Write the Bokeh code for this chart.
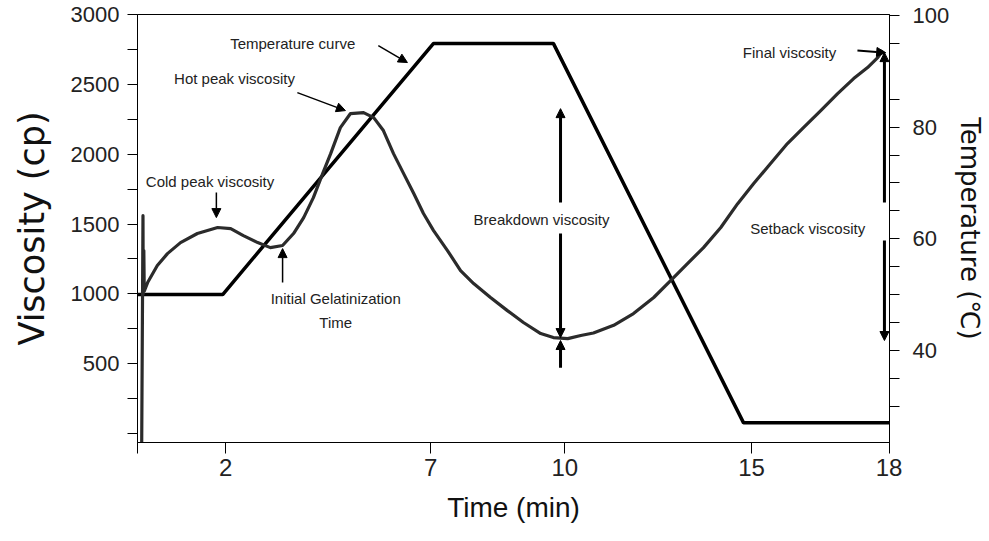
from bokeh.plotting import figure
from bokeh.models import Range1d, LinearAxis, FixedTicker, Label, Arrow, NormalHead
from bokeh.embed import file_html
from bokeh.resources import INLINE

# ---- data (time axis as drawn, minutes) ----
time_visc = [0.10, 0.13, 0.135, 0.15, 0.16, 0.24, 0.47, 0.71, 1.02, 1.42, 1.90, 2.21,
             2.51, 2.85, 3.15, 3.44, 3.70, 3.94, 4.17, 4.39, 4.58, 4.81, 5.05, 5.36,
             5.60, 5.83, 6.07, 6.31, 6.55, 6.78, 7.02, 7.35, 7.66, 7.97, 8.37, 8.77,
             9.15, 9.56, 9.86, 10.20, 10.51, 10.81, 11.29, 11.76, 12.24, 12.64, 13.04,
             13.42, 13.83, 14.23, 14.61, 15.01, 15.41, 15.79, 16.20, 16.60, 16.98,
             17.31, 17.55, 17.67]
viscosity = [-60, 1560, 1000, 1310, 1020, 1081, 1203, 1288, 1367, 1432, 1475, 1467,
             1417, 1367, 1331, 1346, 1432, 1546, 1689, 1861, 2004, 2190, 2291, 2298,
             2262, 2169, 2004, 1861, 1718, 1575, 1453, 1310, 1167, 1074, 974, 880,
             795, 716, 687, 680, 702, 720, 775, 859, 974, 1095, 1217,
             1331, 1475, 1646, 1790, 1933, 2076, 2190, 2312, 2434, 2541,
             2620, 2691, 2742]

time_temp = [0.0, 2.02, 7.02, 9.86, 14.37, 17.83]
temperature = [50, 50, 95, 95, 27, 27]

time_tick_pos = [0, 2.09, 6.95, 10.13, 14.56, 17.82]
time_tick_labels = ["", "2", "7", "10", "15", "18"]
visc_ticks = [0, 500, 1000, 1500, 2000, 2500, 3000]
visc_tick_labels = ["", "500", "1000", "1500", "2000", "2500", "3000"]
visc_minor = [250, 750, 1250, 1750, 2250, 2750]
temp_ticks = [40, 60, 80, 100]
temp_minor = [30, 35, 45, 50, 55, 65, 70, 75, 85, 95]

SANS = "Liberation Sans"
WIDE = "DejaVu Sans"

p = figure(width=989, height=541, output_backend="svg", toolbar_location=None,
           x_range=Range1d(0, 17.83), y_range=Range1d(-64, 3000),
           min_border_left=137, min_border_right=100, min_border_top=14, min_border_bottom=99)
p.extra_y_ranges = {"temp": Range1d(23.48, 100.18)}
p.xgrid.visible = False
p.ygrid.visible = False
p.outline_line_color = "black"
p.outline_line_width = 1

def style_axis(ax, size, tick_out=10):
    ax.axis_line_color = "black"
    ax.axis_line_width = 1
    ax.major_tick_in = 0
    ax.major_tick_out = tick_out
    ax.minor_tick_in = 0
    ax.minor_tick_out = tick_out
    ax.major_tick_line_color = "black"
    ax.minor_tick_line_color = "black"
    ax.major_label_text_font = SANS
    ax.major_label_text_font_size = size
    ax.major_label_text_color = "#222222"
    ax.axis_label_text_font_style = "normal"
    ax.axis_label_text_color = "#111111"

# x axis
xa = p.xaxis[0]
xa.ticker = FixedTicker(ticks=time_tick_pos, minor_ticks=[])
xa.major_label_overrides = dict(zip(time_tick_pos, time_tick_labels))
style_axis(xa, "24px", 11)
xa.major_label_standoff = 5
xa.axis_label = "Time (min)"
xa.axis_label_text_font = SANS
xa.axis_label_text_font_size = "28px"
xa.axis_label_standoff = 13

# left axis
ya = p.yaxis[0]
ya.ticker = FixedTicker(ticks=visc_ticks, minor_ticks=visc_minor)
ya.major_label_overrides = dict(zip(visc_ticks, visc_tick_labels))
style_axis(ya, "22px", 10)
ya.major_label_standoff = 8
ya.axis_label = "Viscosity (cp)"
ya.axis_label_text_font = WIDE
ya.axis_label_text_font_size = "35px"
ya.axis_label_standoff = 16

# right axis
ra = LinearAxis(y_range_name="temp",
                ticker=FixedTicker(ticks=temp_ticks, minor_ticks=temp_minor))
style_axis(ra, "22px", 10)
ra.major_label_standoff = 13
ra.axis_label = "Temperature (℃)"
ra.axis_label_text_font = WIDE
ra.axis_label_text_font_size = "26px"
ra.axis_label_standoff = 3
p.add_layout(ra, "right")

# curves
p.line(time_temp, temperature, y_range_name="temp", line_color="black", line_width=3.5)
p.line(time_visc, viscosity, line_color="#2b2b2b", line_width=3.2, line_join="round")

# annotations
labels = [
    ("Temperature curve", 3.68, 2792),
    ("Hot peak viscosity", 2.30, 2541),
    ("Cold peak viscosity", 1.72, 1804),
    ("Initial Gelatinization", 4.70, 966),
    ("Time", 4.70, 795),
    ("Breakdown viscosity", 9.58, 1532),
    ("Final viscosity", 15.46, 2727),
    ("Setback viscosity", 15.89, 1467),
]
for txt, lx, ly in labels:
    p.add_layout(Label(x=lx, y=ly, text=txt, text_align="center", text_baseline="middle",
                       text_font=SANS, text_font_size="15px", text_color="#222222"))

arrows = [
    # x_start, y_start, x_end, y_end, width
    (5.71, 2777, 6.40, 2656, 1.5),
    (3.79, 2441, 4.93, 2312, 1.5),
    (1.87, 1725, 1.87, 1546, 1.5),
    (3.44, 1081, 3.44, 1324, 1.5),
    (10.03, 1654, 10.03, 2326, 3),
    (10.03, 1432, 10.03, 687, 3),
    (10.03, 472, 10.03, 666, 3),
    (17.07, 2742, 17.74, 2727, 2),
    (17.71, 1654, 17.71, 2727, 3),
    (17.71, 1382, 17.71, 666, 3),
]
for xs, ys, xe, ye, w in arrows:
    p.add_layout(Arrow(x_start=xs, y_start=ys, x_end=xe, y_end=ye, line_width=w,
                       line_color="black",
                       end=NormalHead(size=9, fill_color="black", line_color="black", line_width=1)))

open("out.html", "w").write(file_html(p, INLINE))
